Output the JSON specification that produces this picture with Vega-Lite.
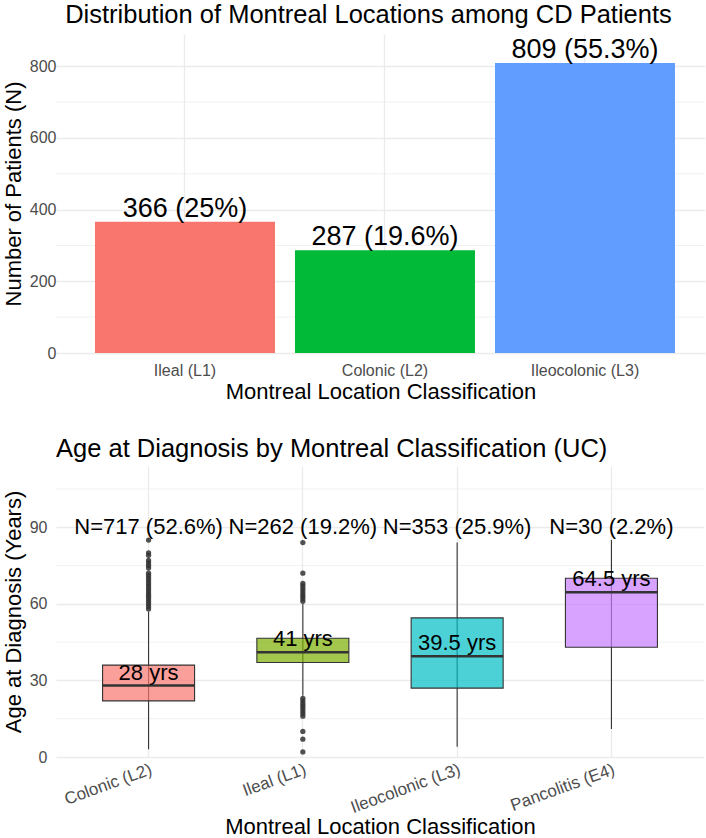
{
  "$schema": "https://vega.github.io/schema/vega-lite/v6.json",
  "padding": {"left": 2, "top": 3, "right": 0, "bottom": 0},
  "background": "white",
  "config": {
    "font": "Liberation Sans",
    "view": {"stroke": null},
    "axis": {
      "domain": false, "ticks": false, "grid": true, "gridColor": "#EBEBEB", "gridWidth": 1.3,
      "labelFontSize": 16, "labelColor": "#4D4D4D", "labelFont": "Liberation Sans",
      "titleFontSize": 22, "titleFontWeight": "normal", "titleColor": "#000000", "titleFont": "Liberation Sans"
    },
    "title": {"fontSize": 25.5, "fontWeight": "normal", "color": "#000000", "font": "Liberation Sans"}
  },
  "spacing": 34,
  "columns": 1,
  "align": "none",
  "resolve": {"scale": {"color": "independent", "x": "independent", "y": "independent"}},
  "concat": [
    {
      "width": 649, "height": 319,
      "title": {"text": "Distribution of Montreal Locations among CD Patients", "anchor": "middle", "frame": "group", "dx": -12, "offset": 5.5},
      "layer": [
        {
          "data": {"values": [{"v": 100}, {"v": 300}, {"v": 500}, {"v": 700}]},
          "mark": {"type": "rule", "color": "#EBEBEB", "strokeWidth": 0.7},
          "encoding": {"y": {"field": "v", "type": "quantitative", "scale": {"domain": [0, 890], "nice": false, "zero": false}}}
        },
        {
          "data": {"values": [
            {"location": "Ileal (L1)", "n": 366, "label": "366 (25%)"},
            {"location": "Colonic (L2)", "n": 287, "label": "287 (19.6%)"},
            {"location": "Ileocolonic (L3)", "n": 809, "label": "809 (55.3%)"}
          ]},
          "encoding": {
            "x": {"field": "location", "type": "nominal", "sort": ["Ileal (L1)", "Colonic (L2)", "Ileocolonic (L3)"],
                  "scale": {"paddingInner": 0.1, "paddingOuter": 0.1725, "align": 0.565},
                  "axis": {"title": "Montreal Location Classification", "labelAngle": 0, "labelPadding": 9, "titlePadding": 3, "bandPosition": 0.5}},
            "y": {"field": "n", "type": "quantitative", "scale": {"domain": [0, 890], "nice": false, "zero": false},
                  "axis": {"values": [0, 200, 400, 600, 800], "title": "Number of Patients (N)", "labelPadding": 0, "titlePadding": 4}}
          },
          "layer": [
            {"mark": {"type": "bar"},
             "encoding": {"y2": {"datum": 0},
               "color": {"field": "location", "type": "nominal", "legend": null,
                 "scale": {"domain": ["Ileal (L1)", "Colonic (L2)", "Ileocolonic (L3)"], "range": ["#F8766D", "#00BA38", "#619CFF"]}}}},
            {"mark": {"type": "text", "baseline": "alphabetic", "dy": -5, "fontSize": 27, "color": "#000000"},
             "encoding": {"text": {"field": "label"}}}
          ]
        }
      ]
    },
    {
      "width": 648, "height": 291,
      "title": {"text": "Age at Diagnosis by Montreal Classification (UC)", "anchor": "start", "frame": "group", "offset": 4},
      "layer": [
        {
          "data": {"values": [{"v": 15}, {"v": 45}, {"v": 75}, {"v": 105}]},
          "mark": {"type": "rule", "color": "#EBEBEB", "strokeWidth": 0.7},
          "encoding": {"y": {"field": "v", "type": "quantitative", "scale": {"domain": [0, 114], "nice": false, "zero": false}}}
        },
        {
          "data": {"values": [
            {"location": "Colonic (L2)", "lower": 3, "q1": 22, "median": 28, "q3": 36, "upper": 57, "mlabel": "28 yrs", "nlabel": "N=717 (52.6%)"},
            {"location": "Ileal (L1)", "lower": 24, "q1": 37, "median": 41, "q3": 46.5, "upper": 60, "mlabel": "41 yrs", "nlabel": "N=262 (19.2%)"},
            {"location": "Ileocolonic (L3)", "lower": 4, "q1": 27, "median": 39.5, "q3": 54.5, "upper": 84, "mlabel": "39.5 yrs", "nlabel": "N=353 (25.9%)"},
            {"location": "Pancolitis (E4)", "lower": 11, "q1": 43, "median": 64.5, "q3": 70, "upper": 85, "mlabel": "64.5 yrs", "nlabel": "N=30 (2.2%)"}
          ]},
          "encoding": {
            "x": {"field": "location", "type": "nominal", "sort": ["Colonic (L2)", "Ileal (L1)", "Ileocolonic (L3)", "Pancolitis (E4)"],
                  "scale": {"paddingInner": 0.1, "paddingOuter": 0.15},
                  "axis": {"title": "Montreal Location Classification", "labelAngle": -20, "labelAlign": "right", "labelBaseline": "top", "labelFontSize": 17, "labelPadding": 4, "titlePadding": 1, "bandPosition": 0.5}}
          },
          "layer": [
            {"mark": {"type": "rule", "color": "#333333", "strokeWidth": 1.1},
             "encoding": {
               "y": {"field": "lower", "type": "quantitative", "scale": {"domain": [0, 114], "nice": false, "zero": false},
                     "axis": {"values": [0, 30, 60, 90], "title": "Age at Diagnosis (Years)", "labelPadding": 9, "titlePadding": 4}},
               "y2": {"field": "upper"}}},
            {"mark": {"type": "bar", "width": 92, "fillOpacity": 0.7, "stroke": "#333333", "strokeWidth": 1.1},
             "encoding": {
               "y": {"field": "q1", "type": "quantitative"},
               "y2": {"field": "q3"},
               "color": {"field": "location", "type": "nominal", "legend": null,
                 "scale": {"domain": ["Colonic (L2)", "Ileal (L1)", "Ileocolonic (L3)", "Pancolitis (E4)"], "range": ["#F8766D", "#7CAE00", "#00BFC4", "#C77CFF"]}}}},
            {"mark": {"type": "tick", "size": 92, "thickness": 2.5, "color": "#333333", "opacity": 1},
             "encoding": {"y": {"field": "median", "type": "quantitative"}}},
            {"mark": {"type": "text", "baseline": "alphabetic", "dy": -6, "fontSize": 22, "color": "#000000"},
             "encoding": {"y": {"field": "median", "type": "quantitative"}, "text": {"field": "mlabel"}}},
            {"mark": {"type": "text", "baseline": "middle", "fontSize": 22, "color": "#000000"},
             "encoding": {"y": {"datum": 90}, "text": {"field": "nlabel"}}}
          ]
        },
        {
          "data": {"values": [
            {"location": "Colonic (L2)", "age": 58}, {"location": "Colonic (L2)", "age": 59}, {"location": "Colonic (L2)", "age": 60},
            {"location": "Colonic (L2)", "age": 61}, {"location": "Colonic (L2)", "age": 62}, {"location": "Colonic (L2)", "age": 63},
            {"location": "Colonic (L2)", "age": 64}, {"location": "Colonic (L2)", "age": 65}, {"location": "Colonic (L2)", "age": 66},
            {"location": "Colonic (L2)", "age": 67}, {"location": "Colonic (L2)", "age": 68}, {"location": "Colonic (L2)", "age": 69},
            {"location": "Colonic (L2)", "age": 70}, {"location": "Colonic (L2)", "age": 71}, {"location": "Colonic (L2)", "age": 72},
            {"location": "Colonic (L2)", "age": 74}, {"location": "Colonic (L2)", "age": 75}, {"location": "Colonic (L2)", "age": 76},
            {"location": "Colonic (L2)", "age": 77}, {"location": "Colonic (L2)", "age": 79}, {"location": "Colonic (L2)", "age": 80},
            {"location": "Colonic (L2)", "age": 85},
            {"location": "Ileal (L1)", "age": 61}, {"location": "Ileal (L1)", "age": 62}, {"location": "Ileal (L1)", "age": 63},
            {"location": "Ileal (L1)", "age": 64}, {"location": "Ileal (L1)", "age": 65}, {"location": "Ileal (L1)", "age": 66},
            {"location": "Ileal (L1)", "age": 67}, {"location": "Ileal (L1)", "age": 68}, {"location": "Ileal (L1)", "age": 72},
            {"location": "Ileal (L1)", "age": 84},
            {"location": "Ileal (L1)", "age": 23}, {"location": "Ileal (L1)", "age": 22}, {"location": "Ileal (L1)", "age": 21},
            {"location": "Ileal (L1)", "age": 20}, {"location": "Ileal (L1)", "age": 19}, {"location": "Ileal (L1)", "age": 18},
            {"location": "Ileal (L1)", "age": 17}, {"location": "Ileal (L1)", "age": 16}, {"location": "Ileal (L1)", "age": 10},
            {"location": "Ileal (L1)", "age": 7}, {"location": "Ileal (L1)", "age": 2}
          ]},
          "mark": {"type": "circle", "size": 28, "color": "#333333", "opacity": 0.85},
          "encoding": {
            "x": {"field": "location", "type": "nominal", "sort": ["Colonic (L2)", "Ileal (L1)", "Ileocolonic (L3)", "Pancolitis (E4)"]},
            "y": {"field": "age", "type": "quantitative"}
          }
        }
      ]
    }
  ]
}
